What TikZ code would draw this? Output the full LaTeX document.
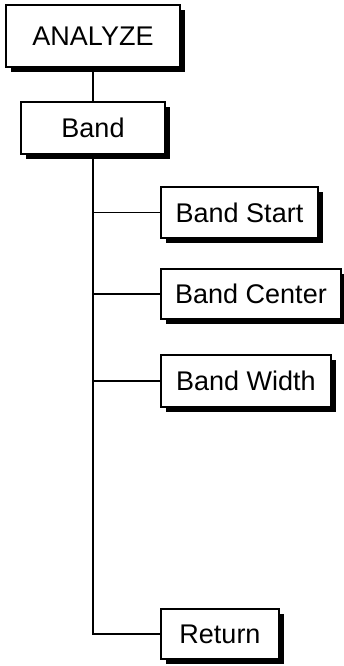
\documentclass[tikz,border=0pt]{standalone}
\usepackage{fontspec}
\setmainfont{Liberation Sans}
\usetikzlibrary{shadows}
\begin{document}
\begin{tikzpicture}[x=1pt, y=-1pt,
  menubox/.style={draw, rectangle, fill=white, line width=1.8pt, align=center,
    inner sep=0pt, font=\fontsize{27}{31}\selectfont,
    drop shadow={shadow xshift=5pt, shadow yshift=-5pt, fill=black, opacity=1}},
  link/.style={line width=1.8pt}]
\useasboundingbox (0,0) rectangle (343,666);
\node[menubox, minimum width=174pt, minimum height=62pt] (a) at (93,36) {ANALYZE};
\node[menubox, minimum width=144pt, minimum height=52pt] (b) at (93,128) {Band};
\node[menubox, minimum width=157pt, minimum height=51pt] (c) at (239.5,212.5) {Band Start};
\node[menubox, minimum width=180pt, minimum height=50pt] (d) at (251,294) {Band Center};
\node[menubox, minimum width=170pt, minimum height=52pt] (e) at (246,381) {Band Width};
\node[menubox, minimum width=118pt, minimum height=50pt] (f) at (220,634) {Return};
\draw[link] (a) -- (b);
\draw[link] (b.south) |- (c.west);
\draw[link] (b.south) |- (d.west);
\draw[link] (b.south) |- (e.west);
\draw[link] (b.south) |- (f.west);
\end{tikzpicture}
\end{document}
